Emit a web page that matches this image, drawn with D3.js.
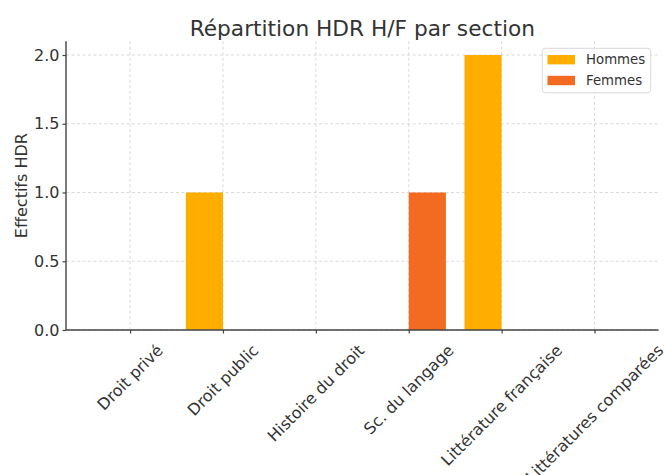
<!DOCTYPE html>
<html>
<head>
<meta charset="utf-8">
<script src="https://cdn.jsdelivr.net/npm/d3@7"></script>
<style>
  body { margin: 0; background: #fff; }
  svg { display: block; font-family: "DejaVu Sans", sans-serif; }
</style>
</head>
<body>
<svg id="chart" width="665" height="475"></svg>
<script>
const categories = ["Droit privé", "Droit public", "Histoire du droit", "Sc. du langage", "Littérature française", "Littératures comparées"];
const hommes = [0, 1, 0, 0, 2, 0];
const femmes = [0, 0, 0, 1, 0, 0];
const yTicks = [0, 0.5, 1.0, 1.5, 2.0];
const seriesNames = ["Hommes", "Femmes"];
const colors = ["#FFAE00", "#F26B21"];
const title = "Répartition HDR H/F par section";
const yLabel = "Effectifs HDR";

(function () {
const svg = d3.select("#chart");
const pL = 66, pR = 658.6, pT = 41.25, pB = 330;
const barW = 0.4;
const n = categories.length;

const x = d3.scaleLinear().domain([-0.69, n - 1 + 0.69]).range([pL, pR]);
const y = d3.scaleLinear().domain([0, 2.1]).range([pB, pT]);
const textColor = "#333333";

// grid
const grid = svg.append("g");
grid.selectAll("line.vx").data(d3.range(n)).join("line")
  .attr("x1", d => x(d)).attr("x2", d => x(d))
  .attr("y1", pT).attr("y2", pB)
  .attr("stroke", "#cfcfcf").attr("stroke-width", 0.8).attr("stroke-dasharray", "3,2.5");
grid.selectAll("line.hy").data(yTicks).join("line")
  .attr("x1", pL).attr("x2", pR)
  .attr("y1", d => y(d)).attr("y2", d => y(d))
  .attr("stroke", "#cfcfcf").attr("stroke-width", 0.8).attr("stroke-dasharray", "3,2.5");

// bars
const series = [hommes, femmes];
series.forEach((vals, si) => {
  const off = si === 0 ? -barW / 2 : barW / 2;
  svg.append("g").selectAll("rect").data(vals).join("rect")
    .attr("x", (d, i) => x(i + off - barW / 2))
    .attr("width", (d, i) => x(i + off + barW / 2) - x(i + off - barW / 2))
    .attr("y", d => y(d))
    .attr("height", d => y(0) - y(d))
    .attr("fill", colors[si]);
});

// y axis
const yAxis = d3.axisLeft(y).tickValues(yTicks).tickFormat(d3.format(".1f")).tickSize(3.5).tickPadding(3);
const yg = svg.append("g").attr("transform", `translate(${pL},0)`).call(yAxis);
yg.select(".domain").attr("d", `M0,${pT}V${pB}`).attr("stroke", "#444").attr("stroke-width", 1.4);
yg.selectAll(".tick line").attr("stroke", "#444").attr("stroke-width", 1.2);
yg.selectAll(".tick text").attr("font-size", 16).attr("fill", textColor)
  .attr("font-family", "DejaVu Sans");

// x axis
const xAxis = d3.axisBottom(x).tickValues(d3.range(n)).tickFormat("").tickSize(3.5);
const xg = svg.append("g").attr("transform", `translate(0,${pB})`).call(xAxis);
xg.select(".domain").attr("d", `M${pL},0H${pR}`).attr("stroke", "#444").attr("stroke-width", 1.4);
xg.selectAll(".tick line").attr("stroke", "#444").attr("stroke-width", 1.2);

// rotated x labels
const lblG = svg.append("g");
categories.forEach((c, i) => {
  const t = lblG.append("text")
    .attr("font-size", 16).attr("fill", textColor)
    .attr("text-anchor", "middle").attr("dominant-baseline", "central")
    .text(c);
  const w = t.node().getComputedTextLength();
  const h = 18.6;
  const half = (w + h) * Math.SQRT1_2 / 2;
  const cx = x(i), cy = pB + 11 + half;
  t.attr("transform", `translate(${cx},${cy}) rotate(-45)`);
});

// title
svg.append("text").attr("x", (pL + pR) / 2).attr("y", 36)
  .attr("text-anchor", "middle").attr("font-size", 21.7).attr("fill", textColor)
  .text(title);

// y label
svg.append("text")
  .attr("transform", `translate(21.7,${(pT + pB) / 2}) rotate(-90)`)
  .attr("text-anchor", "middle").attr("dominant-baseline", "central")
  .attr("font-size", 16).attr("fill", textColor)
  .text(yLabel);

// legend
const lg = svg.append("g");
lg.append("rect").attr("x", 542.3).attr("y", 48.3).attr("width", 108.4).attr("height", 44.4)
  .attr("rx", 3).attr("fill", "#fff").attr("fill-opacity", 0.85)
  .attr("stroke", "#d9d9d9").attr("stroke-width", 1);
seriesNames.forEach((s, i) => {
  const cy = 59.6 + i * 20.8;
  lg.append("rect").attr("x", 547.5).attr("y", cy - 4.6).attr("width", 27.5).attr("height", 9.4)
    .attr("fill", colors[i]);
  lg.append("text").attr("x", 586).attr("y", cy).attr("dominant-baseline", "central")
    .attr("font-size", 13.3).attr("fill", textColor).text(s);
});
})();
</script>
</body>
</html>
